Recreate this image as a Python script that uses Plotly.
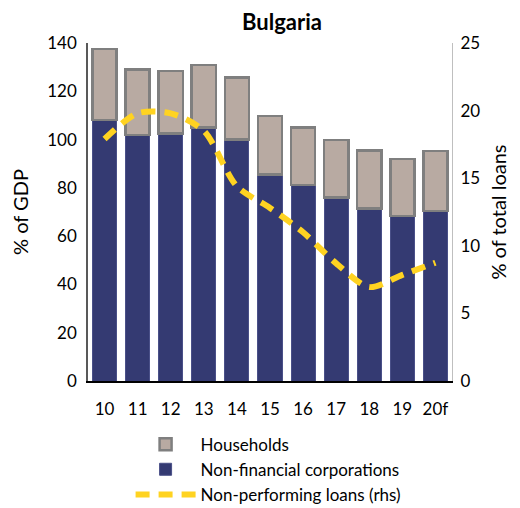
import plotly.graph_objects as go

# data
years = ["10", "11", "12", "13", "14", "15", "16", "17", "18", "19", "20f"]
nfc = [108.1, 101.9, 102.6, 104.9, 100.0, 85.6, 81.2, 76.1, 71.5, 68.3, 70.5]
households = [29.4, 27.2, 25.9, 26.0, 25.8, 24.2, 23.7, 23.7, 23.9, 23.7, 24.8]
npl = [17.9, 19.8, 19.8, 18.5, 14.4, 12.8, 11.0, 8.7, 6.95, 7.85, 8.75]

font = "Lato, 'Open Sans', sans-serif"

fig = go.Figure()

fig.add_trace(go.Bar(x=years, y=nfc, name="Non-financial corporations",
                     marker=dict(color="#343A72", line=dict(color="#4A5088", width=1)),
                     legendrank=2))
fig.add_trace(go.Bar(x=years, y=households, name="Households",
                     marker=dict(color="#B8AAA2", line=dict(color="#7F7F7F", width=2.5)),
                     legendrank=1))
fig.add_trace(go.Scatter(x=years, y=npl, name="Non-performing loans (rhs)", yaxis="y2",
                         mode="lines", line=dict(color="#FFD321", width=6, dash="14px,9px",
                                                 shape="spline", smoothing=0.8),
                         legendrank=3))

# page body has an 8px margin, so the figure is a bit smaller than the window
fig.update_layout(
    width=512, height=500,
    barmode="stack", bargap=0.27,
    plot_bgcolor="white", paper_bgcolor="white",
    font=dict(family=font, size=17, color="black"),
    title=dict(text="<b>Bulgaria</b>", x=274/512, xanchor="center", y=0.972, yanchor="middle",
               font=dict(size=22)),
    margin=dict(l=80, r=68, t=35, b=127, autoexpand=False),
    xaxis=dict(showline=True, linecolor="#000000", linewidth=1.5, ticks="",
               tickfont=dict(size=17), automargin=False, ticklabelstandoff=12),
    yaxis=dict(range=[0, 140], dtick=20, showgrid=False, zeroline=False, automargin=False,
               showline=True, linecolor="#595959", linewidth=1.5, ticks="",
               ticklabelstandoff=6, title=dict(text="% of GDP", standoff=14)),
    yaxis2=dict(range=[0, 25], dtick=5, overlaying="y", side="right", showgrid=False,
                zeroline=False, showline=True, linecolor="#BFBFBF", linewidth=1, ticks="",
                automargin=False, ticklabelstandoff=4,
                title=dict(text="% of total loans", standoff=12)),
    legend=dict(orientation="v", x=0.117, xanchor="left", y=-0.135, yanchor="top",
                font=dict(size=17), tracegroupgap=0, itemwidth=60, traceorder="normal",
                bgcolor="rgba(0,0,0,0)"),
)

fig.write_html("out.html")
